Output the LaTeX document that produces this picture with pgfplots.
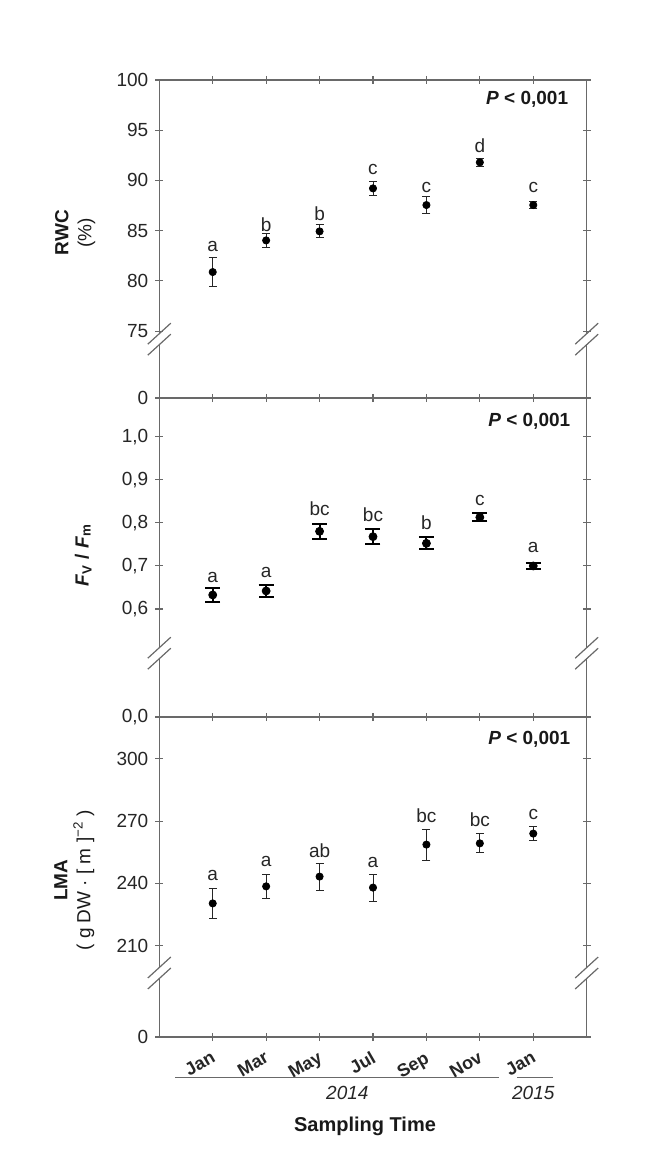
\documentclass[border=0pt]{standalone}
\usepackage{fontspec}
\setmainfont{Liberation Sans}
\usepackage{pgfplots}
\pgfplotsset{compat=1.18}
\definecolor{axgray}{RGB}{105,105,105}

\newcommand{\brkmark}[1]{%
  \fill[white] ([shift={(-1.2pt,-2.6pt)}]#1) rectangle ([shift={(1.2pt,2.6pt)}]#1);
  \draw[axgray, line width=0.6pt] ([shift={(-5.75pt,-2.5pt)}]#1) -- ([shift={(5.75pt,8pt)}]#1);
  \draw[axgray, line width=0.6pt] ([shift={(-5.75pt,-8pt)}]#1) -- ([shift={(5.75pt,2.5pt)}]#1);}

\tikzset{pval/.style={anchor=east, font=\fontsize{9.5}{11}\selectfont\bfseries, text=black!90}}

\pgfplotsset{
  panel/.style={
    scale only axis, width=213.7pt,
    xmin=-1, xmax=7, xtick={0,...,6}, xticklabels={},
    axis line style={axgray, line width=0.6pt},
    tick style={axgray, line width=0.6pt},
    major tick length=4pt, tick align=center,
    tick label style={font=\fontsize{9.5}{11}\selectfont, text=black!85},
    clip=false,
    every axis y label/.style={rotate=90, anchor=center, align=center,
      font=\fontsize{9.5}{11.5}\selectfont, text=black!90},
  },
  datapt/.style={only marks, mark=*, mark size=1.8pt, black,
    mark options={fill=black, draw=black},
    error bars/y dir=both, error bars/y explicit,
    error bars/error bar style={line width=0.5pt, black!85},
    error bars/error mark options={rotate=90, mark size=2pt, line width=0.5pt, black!85}},
  letters/.style={draw=none, mark=none, nodes near coords,
    point meta=explicit symbolic,
    nodes near coords style={anchor=center, font=\fontsize{9.5}{11}\selectfont, text=black!85}},
}

\begin{document}
\begin{tikzpicture}
\path (0pt,0pt) rectangle (325pt,-583.5pt);

% RWC
\begin{axis}[panel, at={(79.65pt,-199pt)}, anchor=south west, height=159pt,
  ymin=68.34, ymax=100,
  ytick={68.34,75,80,85,90,95,100}, yticklabels={0,75,80,85,90,95,100},
  ylabel={\textbf{RWC}\\(\%)},
  every axis y label/.append style={at={([xshift=-42pt]rel axis cs:0,0.52)}}]
\addplot[datapt] table[x=x, y=y, y error=e] {
x y e
0 80.88 1.40
1 84.03 0.72
2 84.93 0.65
3 89.21 0.72
4 87.55 0.83
5 91.80 0.43
6 87.55 0.35
};
\addplot[letters] coordinates {(0,83.47)[a] (1,85.62)[b] (2,86.65)[b] (3,91.1)[c] (4,89.28)[c] (5,93.46)[d] (6,89.28)[c]};
\node[pval] at (rel axis cs:0.973,0.94) {\textit{P} < 0,001};
\brkmark{rel axis cs:0,0.185}
\brkmark{rel axis cs:1,0.185}
\end{axis}

% Fv/Fm
\begin{axis}[panel, at={(79.65pt,-358.5pt)}, anchor=south west, height=159.5pt,
  ymin=0.349, ymax=1.09,
  ytick={0.349,0.6,0.7,0.8,0.9,1.0},
  yticklabels={{0,0},{0,6},{0,7},{0,8},{0,9},{1,0}},
  ylabel={\textbf{\textit{F}\textsubscript{V} / \textit{F}\textsubscript{m}}},
  every axis y label/.append style={at={([xshift=-38pt]rel axis cs:0,0.508)}}]
\addplot[datapt, mark size=2pt,
  error bars/error bar style={line width=1pt, black},
  error bars/error mark options={rotate=90, mark size=3.75pt, line width=1pt, black}]
  table[x=x, y=y, y error=e] {
x y e
0 0.6325 0.016
1 0.6418 0.014
2 0.7803 0.018
3 0.7679 0.017
4 0.7524 0.014
5 0.8128 0.009
6 0.6998 0.0065
};
\addplot[letters] coordinates {(0,0.6735)[a] (1,0.6843)[a] (2,0.8321)[bc] (3,0.8182)[bc] (4,0.8004)[b] (5,0.853)[c] (6,0.7431)[a]};
\node[pval] at (rel axis cs:0.978,0.926) {\textit{P} < 0,001};
\brkmark{rel axis cs:0,0.2}
\brkmark{rel axis cs:1,0.2}
\end{axis}

% LMA
\begin{axis}[panel, at={(79.65pt,-518.5pt)}, anchor=south west, height=160pt,
  ymin=166.1, ymax=320.1,
  ytick={166.1,210,240,270,300}, yticklabels={0,210,240,270,300},
  xticklabels={Jan,Mar,May,Jul,Sep,Nov,Jan},
  xticklabel style={rotate=30, anchor=north east, font=\fontsize{9}{10}\selectfont\bfseries, text=black!85},
  ylabel={\textbf{LMA}\\( g DW · [ m ]\textsuperscript{−2} )},
  every axis y label/.append style={at={([xshift=-42.5pt]rel axis cs:0,0.49)}}]
\addplot[datapt] table[x=x, y=y, y error=e] {
x y e
0 230.4 7.4
1 238.6 5.9
2 243.3 6.5
3 238.0 6.5
4 258.7 7.5
5 259.3 4.6
6 264.0 3.5
};
\addplot[letters] coordinates {(0,243.6)[a] (1,250.8)[a] (2,255.8)[ab] (3,250.0)[a] (4,272.5)[bc] (5,270.9)[bc] (6,273.3)[c]};
\node[pval] at (rel axis cs:0.978,0.931) {\textit{P} < 0,001};
\brkmark{rel axis cs:0,0.2}
\brkmark{rel axis cs:1,0.2}
\draw[axgray, line width=0.6pt] ([yshift=-20.4pt]axis cs:-0.70,166.1) -- ([yshift=-20.4pt]axis cs:5.36,166.1);
\draw[axgray, line width=0.6pt] ([yshift=-20.4pt]axis cs:5.70,166.1) -- ([yshift=-20.4pt]axis cs:6.36,166.1);
\node[font=\fontsize{9.5}{11}\selectfont\itshape, text=black!85] at ([yshift=-28.2pt]axis cs:2.52,166.1) {2014};
\node[font=\fontsize{9.5}{11}\selectfont\itshape, text=black!85] at ([yshift=-28.2pt]axis cs:6.0,166.1) {2015};
\node[font=\fontsize{10}{12}\selectfont\bfseries, text=black!90] at ([yshift=-44.9pt]axis cs:2.85,166.1) {Sampling Time};
\end{axis}
\end{tikzpicture}
\end{document}
